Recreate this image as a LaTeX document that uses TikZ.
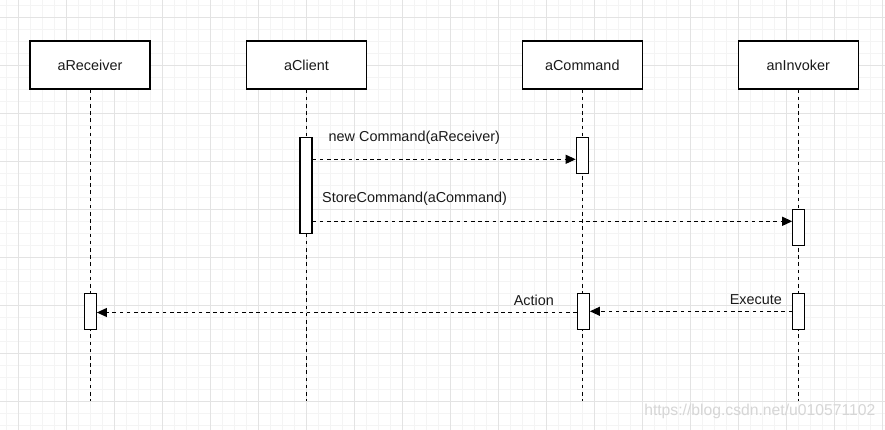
\documentclass[tikz,border=0pt]{standalone}
\usepackage{fontspec}
\setmainfont{Liberation Sans}
\usetikzlibrary{arrows.meta}
\definecolor{gridmajor}{HTML}{E3E3E3}
\definecolor{gridminor}{HTML}{F4F4F4}
\definecolor{txt}{HTML}{1A1A1A}
\definecolor{wm}{HTML}{D6D6D6}
\tikzset{
  lbox/.style={draw, line width=1.2pt, fill=white, minimum width=120pt, minimum height=48pt, inner sep=0pt, font=\fontsize{14.4}{17}\selectfont, text=txt},
  act/.style={draw, line width=1.2pt, fill=white, minimum width=12pt, inner sep=0pt},
  life/.style={line width=1pt, dash pattern=on 3.6pt off 3.6pt},
  msg/.style={line width=1.1pt, dash pattern=on 3.6pt off 3.6pt, -{Triangle[length=10pt,width=9pt]}},
  lbl/.style={inner sep=0pt, font=\fontsize{14.4}{17}\selectfont, text=txt}
}
\begin{document}
\begin{tikzpicture}[x=1pt,y=-1pt]
\useasboundingbox (0,0) rectangle (885,430);
\fill[white] (0,0) rectangle (885,430);
% grid
\foreach \k in {0,...,73} { \draw[gridminor, line width=0.8pt] (6.3+12*\k,0) -- (6.3+12*\k,430); }
\foreach \k in {0,...,35} { \draw[gridminor, line width=0.8pt] (0,5.3+12*\k) -- (885,5.3+12*\k); }
\foreach \k in {0,...,18} { \draw[gridmajor, line width=0.9pt] (18.3+48*\k,0) -- (18.3+48*\k,430); }
\foreach \k in {0,...,8} { \draw[gridmajor, line width=0.9pt] (0,17.3+48*\k) -- (885,17.3+48*\k); }

% lifeline heads
\node[lbox] (recv) at (90,65) {aReceiver};
\node[lbox] (client) at (306.5,65) {aClient};
\node[lbox] (cmd) at (582.3,65) {aCommand};
\node[lbox] (inv) at (798.3,65) {anInvoker};

% lifeline ends
\coordinate (recvEnd) at (90,401);
\coordinate (clientEnd) at (306.5,401);
\coordinate (cmdEnd) at (582.3,401);
\coordinate (invEnd) at (798.3,401);

\draw[life] (recv.south) -- (recvEnd);
\draw[life] (client.south) -- (clientEnd);
\draw[life] (cmd.south) -- (cmdEnd);
\draw[life] (inv.south) -- (invEnd);

% activations
\node[act, minimum height=96pt] (clientAct) at (306,185.3) {};
\node[act, minimum height=36pt] (cmdAct1) at (582.3,155.3) {};
\node[act, minimum height=36pt] (invAct1) at (798.8,227.5) {};
\node[act, minimum height=36pt] (recvAct) at (90.3,311.3) {};
\node[act, minimum height=36pt] (cmdAct2) at (583.3,311.3) {};
\node[act, minimum height=36pt] (invAct2) at (798.8,311.3) {};

% message levels
\coordinate (m1) at (0,159.3);
\coordinate (m2) at (0,221.3);
\coordinate (m3) at (0,311.3);
\coordinate (m4) at (0,312.5);

\draw[msg] (clientAct.east |- m1) -- (cmdAct1.west |- m1);
\draw[msg] (clientAct.east |- m2) -- (invAct1.west |- m2);
\draw[msg] (invAct2.west |- m3) -- (cmdAct2.east |- m3);
\draw[msg] (cmdAct2.west |- m4) -- (recvAct.east |- m4);

% labels
\node[lbl, anchor=west] (l1) at (328.5,138) {new Command(aReceiver)};
\node[lbl, anchor=west] (l2) at (322,199) {StoreCommand(aCommand)};
\node[lbl, anchor=east] (l3) at (782,300) {Execute};
\node[lbl, anchor=east] (l4) at (554,300) {Action};

% watermark
\node[inner sep=0pt, anchor=east, text=wm, font=\fontsize{15.7}{18}\selectfont] (wmk) at (875.5,411.5) {https://blog.csdn.net/u010571102};
\end{tikzpicture}
\end{document}
